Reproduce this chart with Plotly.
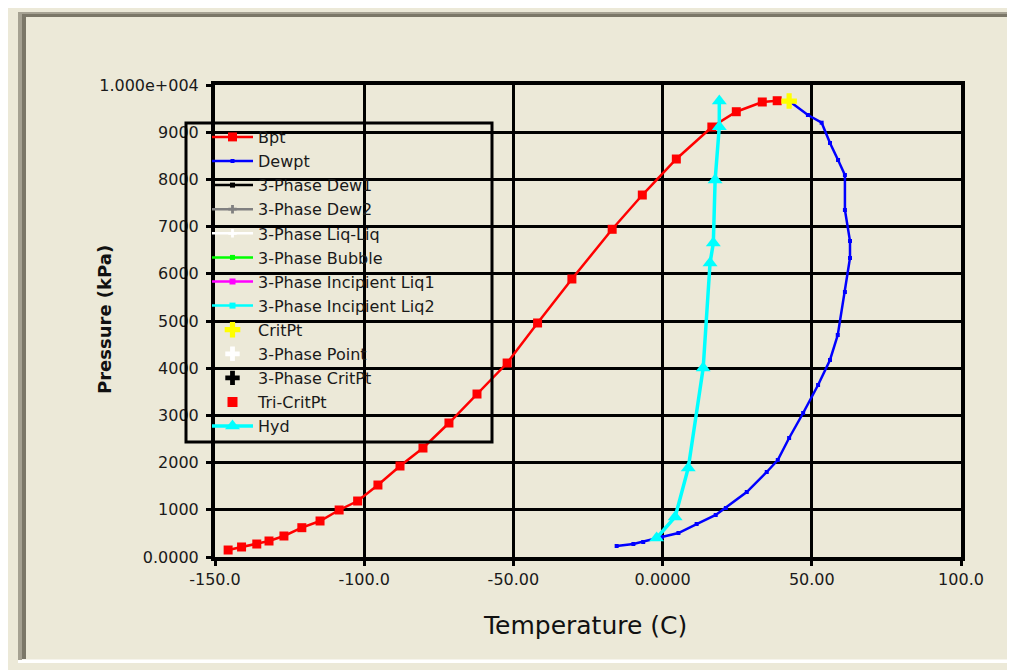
import plotly.graph_objects as go

# 1. Data
bub_t = [-145.6, -141.1, -136.0, -131.9, -126.9, -120.9, -114.8, -108.4, -102.2, -95.4, -88.0, -80.3,
         -71.6, -62.2, -52.1, -41.9, -30.4, -16.9, -6.8, 4.6, 16.5, 24.7, 33.4, 38.4]
bub_p = [148, 212, 275, 339, 445, 621, 763, 996, 1186, 1525, 1928, 2309,
         2839, 3453, 4110, 4958, 5890, 6943, 7669, 8432, 9110, 9434, 9640, 9667]

dew_t = [42.4, 48.7, 53.3, 56.1, 58.8, 61.1, 61.1, 62.8, 62.8, 61.1, 58.7, 56.1, 52.1, 47.1,
         42.4, 38.6, 34.9, 28.2, 21.2, 17.8, 11.4, 5.3, -0.3, -6.5, -9.8, -15.4]
dew_p = [9660, 9364, 9201, 8771, 8411, 8093, 7352, 6695, 6335, 5614, 4703, 4174, 3644, 3051,
         2521, 2055, 1801, 1377, 1038, 890, 699, 508, 424, 318, 275, 233]

crit_t = [42.4]
crit_p = [9660]

hyd_t = [-2.0, 4.2, 8.6, 13.6, 15.9, 17.0, 17.6, 19.0, 19.0]
hyd_p = [403, 847, 1886, 4004, 6229, 6652, 7987, 9116, 9661]

# series with no points in this case (still listed in the legend)
no_t = [None]
no_p = [None]

x_ticks = [-150, -100, -50, 0, 50, 100]
x_labels = ['-150.0', '-100.0', '-50.00', '0.0000', '50.00', '100.0']
y_ticks = [0, 1000, 2000, 3000, 4000, 5000, 6000, 7000, 8000, 9000, 10000]
y_labels = ['0.0000', '1000', '2000', '3000', '4000', '5000', '6000', '7000', '8000', '9000', '1.000e+004']

# 2. Look
bg = '#ECE9D8'
ink = '#000000'
font_main = 'DejaVu Sans'

# page body has an 8px margin, so work in screen pixels and shift
OX, OY = 8, 8
W, H = 1015 - OX, 670 - OY
L, R, T, B = 215, 961, 85, 557


def px(x):
    return (x - L) / (R - L)


def py(y):
    return (B - y) / (B - T)


fig = go.Figure()

# 3. Traces
series = [
    dict(name='Bpt', x=bub_t, y=bub_p, mode='lines+markers', color='#FF0000', width=2.5, symbol='square', size=9),
    dict(name='Dewpt', x=dew_t, y=dew_p, mode='lines+markers', color='#0000FF', width=2.5, symbol='square', size=4),
    dict(name='3-Phase Dew1', x=no_t, y=no_p, mode='lines+markers', color='#000000', width=2.5, symbol='square', size=5),
    dict(name='3-Phase Dew2', x=no_t, y=no_p, mode='lines+markers', color='#808080', width=2.5, symbol='cross', size=7),
    dict(name='3-Phase Liq-Liq', x=no_t, y=no_p, mode='lines+markers', color='#FFFFFF', width=2.5, symbol='cross', size=7),
    dict(name='3-Phase Bubble', x=no_t, y=no_p, mode='lines+markers', color='#00FF00', width=2.5, symbol='square', size=5),
    dict(name='3-Phase Incipient Liq1', x=no_t, y=no_p, mode='lines+markers', color='#FF00FF', width=2.5, symbol='square', size=6),
    dict(name='3-Phase Incipient Liq2', x=no_t, y=no_p, mode='lines+markers', color='#00FFFF', width=2.5, symbol='square', size=6),
    dict(name='CritPt', x=crit_t, y=crit_p, mode='markers', color='#FFFF00', width=2.5, symbol='cross', size=13),
    dict(name='3-Phase Point', x=no_t, y=no_p, mode='markers', color='#FFFFFF', width=2.5, symbol='cross', size=12),
    dict(name='3-Phase CritPt', x=no_t, y=no_p, mode='markers', color='#000000', width=2.5, symbol='cross', size=12),
    dict(name='Tri-CritPt', x=no_t, y=no_p, mode='markers', color='#FF0000', width=2.5, symbol='square', size=10),
    dict(name='Hyd', x=hyd_t, y=hyd_p, mode='lines+markers', color='#00FFFF', width=3.5, symbol='triangle-up', size=13),
]

for i, s in enumerate(series):
    fig.add_trace(go.Scatter(
        x=s['x'], y=s['y'], name=s['name'], mode=s['mode'],
        legendgroup='g%d' % i,
        line=dict(color=s['color'], width=s['width']),
        marker=dict(color=s['color'], symbol=s['symbol'], size=s['size'], line=dict(width=0)),
    ))

# 4. Window frame + legend box drawn as shapes
grey1 = '#A5A192'
grey2 = '#7B7768'


def box(x0, x1, y0, y1, fill):
    return dict(type='rect', xref='paper', yref='paper', x0=px(x0), x1=px(x1), y0=py(y0), y1=py(y1),
                fillcolor=fill, line_width=0, layer='below')


shapes = [
    box(18, 1015, 12, 14, grey1),
    box(18, 22, 12, 663, grey1),
    box(22, 1015, 14, 17, grey2),
    box(22, 26, 14, 659, grey2),
    box(22, 1015, 659, 660, '#F6F4EC'),
    box(18, 1015, 660, 663, '#FFFFFF'),
    dict(type='rect', xref='paper', yref='paper', x0=px(186), x1=px(492), y0=py(123), y1=py(442),
         line=dict(color=ink, width=3), layer='above'),
]

axis_common = dict(
    showline=True, linecolor=ink, linewidth=4, mirror=True,
    showgrid=True, gridcolor=ink, gridwidth=3, zeroline=False,
    ticks='outside', ticklen=5, tickwidth=3, tickcolor=ink,
    tickfont=dict(family=font_main, size=16, color='#1A1A1A'),
)

fig.update_layout(
    width=W, height=H, autosize=False,
    plot_bgcolor=bg, paper_bgcolor=bg,
    font=dict(family=font_main, color=ink),
    margin=dict(l=L - OX, r=1015 - R, t=T - OY, b=670 - B),
    xaxis=dict(range=[-150, 100], tickvals=x_ticks, ticktext=x_labels, ticklabelstandoff=0, **axis_common),
    yaxis=dict(range=[0, 10000], tickvals=y_ticks, ticktext=y_labels, ticklabelstandoff=4, **axis_common),
    legend=dict(
        x=px(207), y=py(120), xanchor='left', yanchor='top',
        bgcolor='rgba(0,0,0,0)', borderwidth=0, itemwidth=41,
        traceorder='grouped', tracegroupgap=0.3,
        font=dict(family=font_main, size=16, color='#1A1A1A'),
    ),
    shapes=shapes,
    annotations=[
        dict(text='Temperature (C)', xref='paper', yref='paper', x=px(585), y=py(625),
             xanchor='center', yanchor='middle',
             showarrow=False, font=dict(family=font_main, size=25, color='#111111')),
        dict(text='Pressure (kPa)', xref='paper', yref='paper', x=px(104), y=py(320), textangle=-90,
             xanchor='center', yanchor='middle',
             showarrow=False, font=dict(family=font_main, size=18, color='#111111', weight='bold')),
    ],
    showlegend=True,
)

# 5. Export
fig.write_html("out.html")
